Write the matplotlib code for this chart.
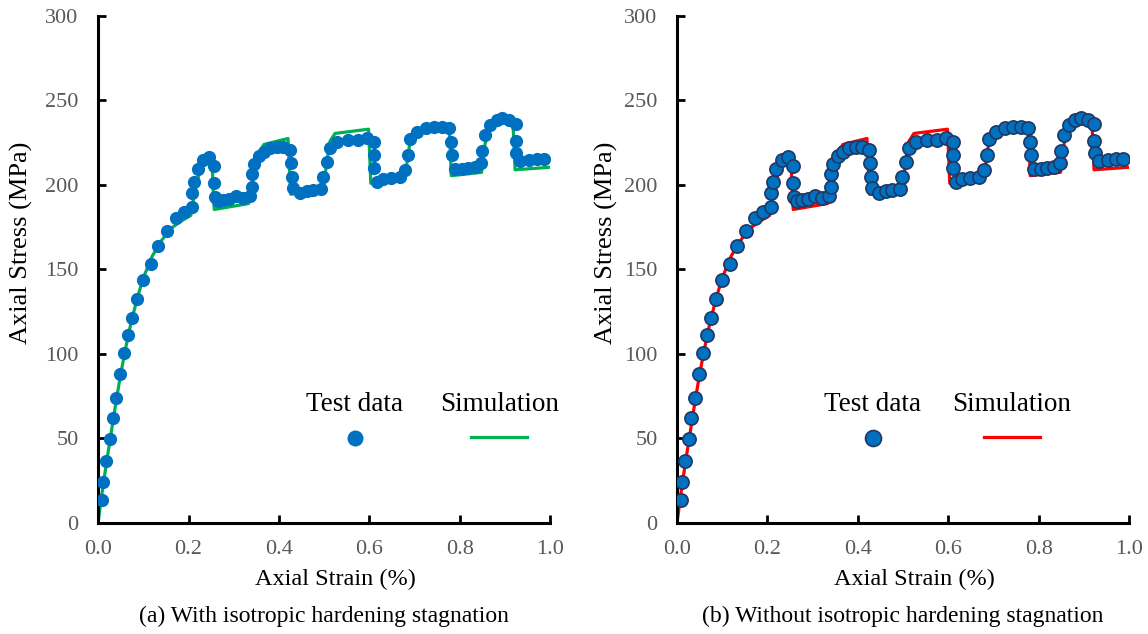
import numpy as np
import matplotlib.pyplot as plt
from matplotlib.lines import Line2D

plt.rcParams['font.family'] = ['Liberation Serif', 'DejaVu Serif']

# test data (strain %, stress MPa)
test_strain = [0.008, 0.012, 0.018, 0.027, 0.032, 0.039, 0.049, 0.058, 0.067, 0.076,
               0.087, 0.100, 0.117, 0.133, 0.152, 0.173, 0.191, 0.207, 0.207, 0.213,
               0.220, 0.232, 0.246, 0.257, 0.257, 0.259, 0.266, 0.277, 0.290, 0.305,
               0.321, 0.335, 0.340, 0.341, 0.345, 0.355, 0.366, 0.381, 0.395, 0.408,
               0.425, 0.427, 0.428, 0.432, 0.447, 0.462, 0.476, 0.493, 0.498, 0.506,
               0.513, 0.528, 0.552, 0.575, 0.594, 0.611, 0.611, 0.611, 0.617, 0.631,
               0.648, 0.667, 0.679, 0.685, 0.690, 0.706, 0.725, 0.742, 0.760, 0.777,
               0.780, 0.783, 0.790, 0.805, 0.819, 0.834, 0.847, 0.849, 0.856, 0.867,
               0.881, 0.893, 0.908, 0.923, 0.923, 0.925, 0.932, 0.952, 0.971, 0.987]
test_stress = [13.6, 24.0, 36.9, 49.9, 62.3, 74.0, 88.4, 100.8, 111.2, 121.1,
               132.4, 144.0, 153.0, 163.9, 172.8, 180.3, 184.2, 186.8, 195.1, 202.0,
               209.3, 214.8, 216.7, 211.2, 201.4, 193.1, 190.5, 191.1, 191.5, 193.5,
               192.1, 193.5, 199.0, 206.3, 212.3, 217.2, 219.7, 221.7, 222.7, 222.5,
               220.7, 213.2, 204.9, 198.0, 195.1, 196.4, 197.0, 197.4, 204.9, 213.8,
               221.7, 225.6, 226.6, 226.6, 227.6, 225.6, 217.8, 209.9, 202.0, 203.4,
               204.0, 204.9, 208.9, 217.8, 227.0, 231.5, 233.5, 234.5, 234.5, 233.9,
               225.6, 217.8, 209.3, 209.3, 209.9, 210.8, 212.8, 220.1, 229.6, 235.5,
               238.5, 239.5, 238.5, 235.9, 226.2, 219.1, 214.4, 214.8, 215.2, 215.4]

# simulation curve
sim_strain = [0, 0.01, 0.02, 0.03, 0.04, 0.05, 0.06, 0.07, 0.08, 0.09, 0.10, 0.12,
              0.14, 0.16, 0.18, 0.205, 0.215, 0.225, 0.235, 0.245, 0.252, 0.254,
              0.257, 0.333, 0.340, 0.348, 0.357, 0.367, 0.420, 0.423, 0.426, 0.498,
              0.505, 0.513, 0.524, 0.598, 0.601, 0.603, 0.678, 0.684, 0.690, 0.697,
              0.706, 0.776, 0.779, 0.781, 0.848, 0.854, 0.862, 0.873, 0.917, 0.920,
              0.922, 1.0]
sim_stress = [0, 20, 38, 55, 72, 88, 102, 115, 126, 136, 145, 158,
              167, 174, 178, 182, 198, 208, 214, 216.5, 217, 200,
              185.5, 189, 200, 213, 220, 224, 227.5, 210, 194.5, 197,
              212, 226, 230.5, 233, 215, 201, 203.5, 215, 226, 231,
              233, 234.5, 220, 205.5, 207.5, 222, 232, 237, 238.5, 222,
              209, 210.5]

x_ticks = [0.0, 0.2, 0.4, 0.6, 0.8, 1.0]
y_ticks = [0, 50, 100, 150, 200, 250, 300]

panels = [
    ('(a) With isotropic hardening stagnation', '#00B050', 'none', 0.0854, -0.17),
    ('(b) Without isotropic hardening stagnation', '#FF0000', '#1F3864', 0.5897, -0.155),
]

fig = plt.figure(figsize=(11.48, 6.34), dpi=100)

for caption, line_color, edge_color, left, ylab_x in panels:
    ax = fig.add_axes([left, 0.1751, 0.394, 0.7997])
    ax.plot(sim_strain, sim_stress, color=line_color, lw=2.3, zorder=2)
    ax.plot(test_strain, test_stress, ls='none', marker='o', ms=9.5,
            mfc='#0070C0', mec=edge_color, mew=1.2, zorder=3)

    ax.set_xlim(0, 1.0)
    ax.set_ylim(0, 300)
    ax.set_xticks(x_ticks)
    ax.set_xticklabels(['%.1f' % t for t in x_ticks])
    ax.set_yticks(y_ticks)
    for s in ['top', 'right']:
        ax.spines[s].set_visible(False)
    for s in ['left', 'bottom']:
        ax.spines[s].set_linewidth(2.2)
    ax.tick_params(direction='in', length=6, width=2, labelsize=16,
                   labelcolor='#595959')
    ax.tick_params(axis='x', pad=12)
    ax.tick_params(axis='y', pad=14)
    ax.set_xlabel('Axial Strain (%)', fontsize=17.5, va='center')
    ax.xaxis.set_label_coords(0.525, -0.112)
    ax.set_ylabel('Axial Stress (MPa)', fontsize=19, va='center')
    ax.yaxis.set_label_coords(ylab_x, 0.552)
    ax.text(0.5, -0.184, caption, transform=ax.transAxes, ha='center',
            va='center', fontsize=17)

    # hand-made legend: labels above their symbols
    if edge_color == 'none':
        tx, sx = 0.568, 0.887
    else:
        tx, sx = 0.433, 0.74
    ax.text(tx, 0.233, 'Test data', transform=ax.transAxes, ha='center',
            va='center', fontsize=19.5)
    ax.text(sx, 0.233, 'Simulation', transform=ax.transAxes, ha='center',
            va='center', fontsize=19.5)
    ax.add_line(Line2D([tx], [0.167], transform=ax.transAxes, marker='o',
                       ms=11.5, mfc='#0070C0', mec=edge_color, mew=1.2))
    ax.add_line(Line2D([sx - 0.062, sx + 0.062], [0.169, 0.169],
                       transform=ax.transAxes, color=line_color, lw=2.3))

fig.savefig('out.png', dpi=100)
